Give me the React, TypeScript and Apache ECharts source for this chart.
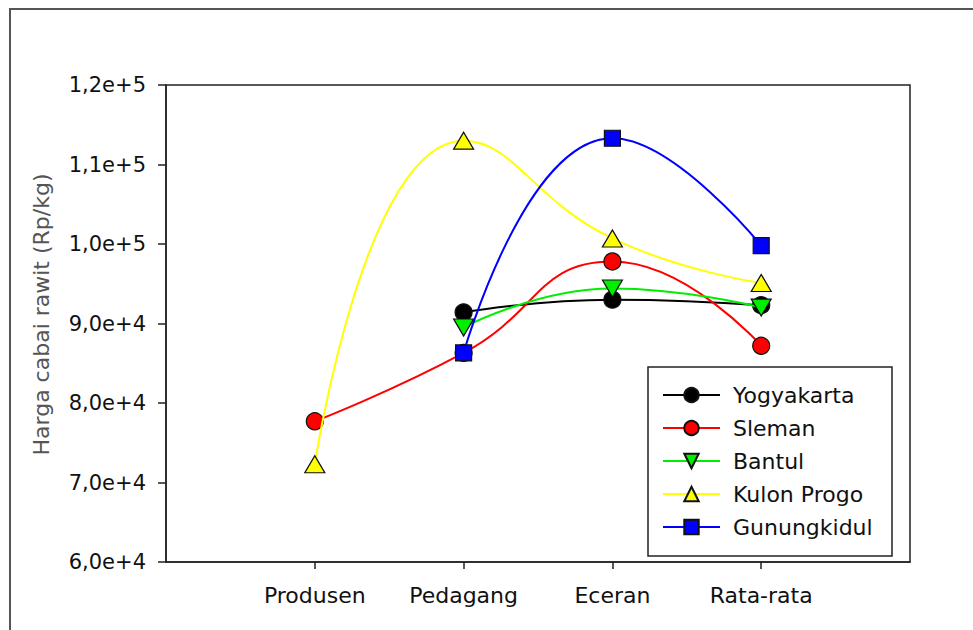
import React, { useEffect, useRef } from "react";
import * as echarts from "echarts";

const categories = ["Produsen", "Pedagang", "Eceran", "Rata-rata"];
const seriesNames = ["Yogyakarta", "Sleman", "Bantul", "Kulon Progo", "Gunungkidul"];
const yogyakarta = [null, 91400, 93000, 92300];
const sleman = [77700, 86300, 97800, 87200];
const bantul = [null, 89500, 94400, 92000];
const kulonProgo = [72300, 113000, 100700, 95100];
const gunungkidul = [null, 86300, 113300, 99800];
const yMin = 60000;
const yMax = 120000;
const yStep = 10000;

const FONT = "DejaVu Sans";

export default function App() {
  const ref = useRef<HTMLDivElement>(null);
  useEffect(() => {
    document.body.style.margin = "0";
    const chart = echarts.init(ref.current!, null, { renderer: "svg" });
    const xData = ["", ...categories, ""];
    const pad = (arr: (number | null)[]) => [null, ...arr, null];
    const styles = [
      { color: "#000000", symbol: "circle", size: 17, rotate: 0 },
      { color: "#ff0000", symbol: "circle", size: 17, rotate: 0 },
      { color: "#00ee00", symbol: "triangle", size: [20, 17], rotate: 180 },
      { color: "#ffff00", symbol: "triangle", size: [20, 17], rotate: 0 },
      { color: "#0000ff", symbol: "rect", size: 16, rotate: 0 },
    ];
    const datas = [yogyakarta, sleman, bantul, kulonProgo, gunungkidul];
    const series = seriesNames.map((name, i) => ({
      name,
      type: "line",
      data: pad(datas[i]),
      smooth: 0.5,
      connectNulls: false,
      symbol: styles[i].symbol,
      symbolSize: styles[i].size,
      symbolRotate: styles[i].rotate,
      showAllSymbol: true,
      lineStyle: { color: styles[i].color, width: 2 },
      itemStyle: { color: styles[i].color, borderColor: "#111", borderWidth: 1.2 },
      z: 2 + i,
    }));
    chart.setOption({
      animation: false,
      textStyle: { fontFamily: FONT },
      grid: {
        left: 166,
        right: 63,
        top: 85,
        bottom: 68,
        show: true,
        borderColor: "#222",
        borderWidth: 1.5,
        backgroundColor: "transparent",
      },
      xAxis: {
        type: "category",
        data: xData,
        boundaryGap: false,
        axisLine: { lineStyle: { color: "#222", width: 1.5 } },
        axisTick: {
          show: true,
          length: 7,
          interval: (idx: number) => idx >= 1 && idx <= 4,
          lineStyle: { color: "#222", width: 1.5 },
        },
        axisLabel: {
          interval: 0,
          margin: 22,
          fontSize: 22,
          color: "#111",
          fontFamily: FONT,
        },
        splitLine: { show: false },
      },
      yAxis: {
        type: "value",
        min: yMin,
        max: yMax,
        interval: yStep,
        name: "Harga cabai rawit (Rp/kg)",
        nameLocation: "middle",
        nameGap: 114,
        nameTextStyle: { fontSize: 22, color: "#555", fontFamily: FONT, padding: [0, 0, 0, 18] },
        axisLine: { show: true, lineStyle: { color: "#222", width: 1.5 } },
        axisTick: { show: true, length: 8, lineStyle: { color: "#222", width: 1.5 } },
        axisLabel: {
          margin: 20,
          fontSize: 21,
          color: "#111",
          fontFamily: FONT,
          formatter: (v: number) => v.toExponential(1).replace(".", ","),
        },
        splitLine: { show: false },
      },
      legend: {
        orient: "vertical",
        left: 662,
        top: 384,
        padding: 0,
        z: 20,
        itemWidth: 57,
        itemHeight: 18,
        itemGap: 11,
        data: seriesNames,
        textStyle: { fontSize: 22, color: "#111", fontFamily: FONT, padding: [0, 0, 0, 8] },
      },
      graphic: [
        {
          type: "rect",
          shape: { x: 10, y: 9, width: 1000, height: 700 },
          style: { fill: "none", stroke: "#555", lineWidth: 2 },
          silent: true,
          z: 0,
        },
        {
          type: "rect",
          shape: { x: 648, y: 367, width: 244, height: 189 },
          style: { fill: "#fff", stroke: "#222", lineWidth: 1.5 },
          z: 1,
          silent: true,
        },
      ],
      series,
    });
    return () => chart.dispose();
  }, []);
  return <div ref={ref} style={{ width: 973, height: 630 }} />;
}
